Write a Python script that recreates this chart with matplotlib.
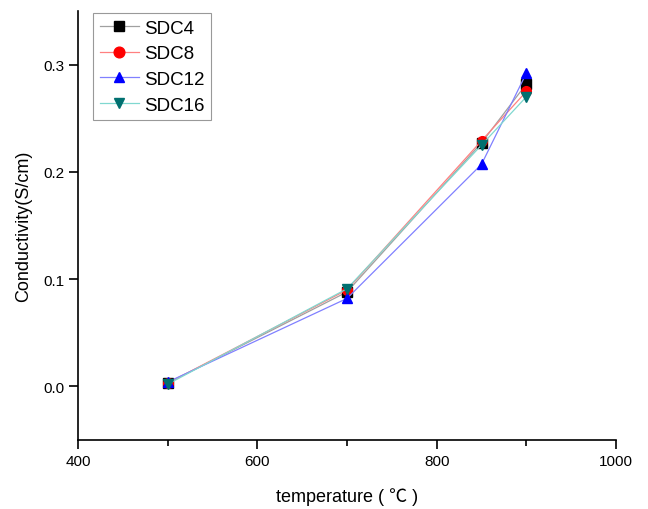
import matplotlib.pyplot as plt
from matplotlib.ticker import MultipleLocator

plt.rcParams['font.family'] = ['Liberation Sans', 'Noto Sans CJK SC', 'DejaVu Sans']

temps = [500, 700, 850, 900]
sdc4 = [0.003, 0.088, 0.227, 0.282]
sdc8 = [0.003, 0.090, 0.229, 0.275]
sdc12 = [0.004, 0.082, 0.207, 0.292]
sdc16 = [0.002, 0.091, 0.225, 0.270]

series = [('SDC4', sdc4, 's', '#000000', '#a0a0a0'),
          ('SDC8', sdc8, 'o', '#ff0000', '#ff8080'),
          ('SDC12', sdc12, '^', '#0000ff', '#8080ff'),
          ('SDC16', sdc16, 'v', '#007070', '#80d8d0')]

fig = plt.figure(figsize=(6.48, 5.10), dpi=100)
ax = fig.add_axes([78 / 648, 69 / 510, 538 / 648, 429 / 510])

for name, vals, mk, mc, lc in series:
    ax.plot(temps, vals, color=lc, lw=0.9, marker=mk, markersize=7,
            markerfacecolor=mc, markeredgecolor=mc, label=name)

ax.set_xlim(400, 1000)
ax.set_ylim(-0.05, 0.35)
ax.xaxis.set_major_locator(MultipleLocator(200))
ax.xaxis.set_minor_locator(MultipleLocator(100))
ax.yaxis.set_major_locator(MultipleLocator(0.1))
ax.yaxis.set_major_formatter(plt.FuncFormatter(lambda v, p: '%.1f' % v))

for s in ['top', 'right']:
    ax.spines[s].set_visible(False)
for s in ['left', 'bottom']:
    ax.spines[s].set_linewidth(1.2)
ax.tick_params(axis='both', which='major', direction='out', length=6.5, width=1.2, labelsize=11)
ax.tick_params(axis='x', which='minor', direction='out', length=4, width=1.2)

ax.set_xlabel('temperature ( ℃ )', fontsize=13, labelpad=14)
ax.set_ylabel('Conductivity(S/cm)', fontsize=13, labelpad=8)

leg = ax.legend(loc='upper left', bbox_to_anchor=(15 / 538, 0.995), fontsize=13.5,
                frameon=True, fancybox=False, edgecolor='#808080',
                handlelength=2.1, handletextpad=0.25, borderpad=0.35,
                labelspacing=0.45, borderaxespad=0.0, markerscale=1.1)
leg.get_frame().set_linewidth(0.8)

fig.savefig('out.png', dpi=100)
